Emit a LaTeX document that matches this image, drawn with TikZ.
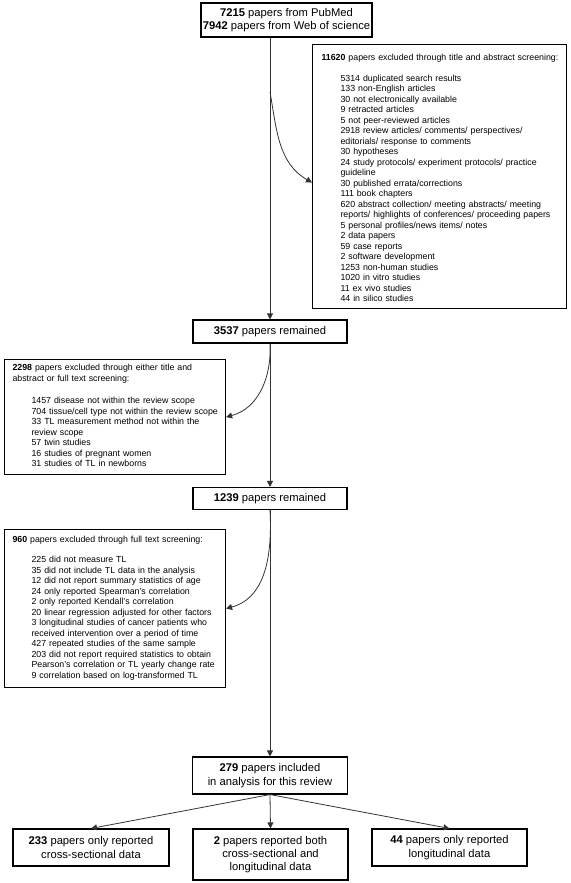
\documentclass[tikz,border=0pt]{standalone}
\usepackage{fontspec}
\setmainfont{Liberation Sans}
\usetikzlibrary{arrows.meta}
\def\ind{\hspace*{19pt}}
\tikzset{
	box/.style={draw=black, line width=1.1pt, fill=white, align=center, inner sep=0pt, font=\fontsize{11.2}{13.3}\selectfont},
	exbox/.style={draw=black, line width=1.1pt, fill=white, align=left, anchor=north west, inner ysep=0pt, font=\fontsize{8.8}{10.5}\selectfont},
	arr/.style={draw=black!80, line width=0.8pt, -{Triangle[length=6pt,width=6pt]}},
}

\begin{document}
\begin{tikzpicture}[x=1pt, y=1pt]
			%%%%% START %%%%%
			\useasboundingbox (0,0) rectangle (570,-883);
			
			\node[box, minimum width=171pt, minimum height=34pt] (search) at (286.5,-20) {\textbf{7215} papers from PubMed\\ \textbf{7942} papers from Web of science};
			
			\node[exbox, inner xsep=9pt, text width=236pt, minimum height=264pt] (titleex) at (312,-44) {\rule{0pt}{13pt}\mbox{\textbf{11620} papers excluded through title and abstract screening:}\\[10pt]
				\ind\begin{tabular}[t]{@{}l@{}}
				5314 duplicated search results\\
				133 non-English articles\\
				30 not electronically available\\
				9 retracted articles\\
				5 not peer-reviewed articles\\
				2918 review articles/ comments/ perspectives/\\
				editorials/ response to comments\\
				30 hypotheses\\
				24 study protocols/ experiment protocols/ practice\\
				guideline\\
				30 published errata/corrections\\
				111 book chapters\\
				620 abstract collection/ meeting abstracts/ meeting\\
				reports/ highlights of conferences/ proceeding papers\\
				5 personal profiles/news items/ notes\\
				2 data papers\\
				59 case reports\\
				2 software development\\
				1253 non-human studies\\
				1020 in vitro studies\\
				11 ex vivo studies\\
				44 in silico studies
				\end{tabular}};
			
			\node[box, minimum width=154pt, minimum height=23pt] (remain1) at (270,-331.5) {\textbf{3537} papers remained};
			
			\node[exbox, inner xsep=8pt, text width=205pt, minimum height=115pt] (eitherex) at (4,-359) {\textbf{2298} papers excluded through either title and\\ abstract or full text screening:\\[12pt]
				\ind\begin{tabular}[t]{@{}l@{}}
				1457 disease not within the review scope\\
				704 tissue/cell type not within the review scope\\
				33 TL measurement method not within the\\
				review scope\\
				57 twin studies\\
				16 studies of pregnant women\\
				31 studies of TL in newborns
				\end{tabular}};
			
			\node[box, minimum width=154pt, minimum height=22pt] (remain2) at (270,-498.5) {\textbf{1239} papers remained};
			
			\node[exbox, inner xsep=8pt, text width=205pt, minimum height=158pt] (fullex) at (4,-529) {\textbf{960} papers excluded through full text screening:\\[10pt]
				\ind\begin{tabular}[t]{@{}l@{}}
				225 did not measure TL\\
				35 did not include TL data in the analysis\\
				12 did not report summary statistics of age\\
				24 only reported Spearman's correlation\\
				2 only reported Kendall's correlation\\
				20 linear regression adjusted for other factors\\
				3 longitudinal studies of cancer patients who\\
				received intervention over a period of time\\
				427 repeated studies of the same sample\\
				203 did not report required statistics to obtain\\
				Pearson's correlation or TL yearly change rate\\
				9 correlation based on log-transformed TL
				\end{tabular}};
			
			\node[box, minimum width=155pt, minimum height=37pt] (included) at (270,-775.5) {\textbf{279} papers included\\ in analysis for this review};
			
			\node[box, minimum width=156pt, minimum height=37pt] (cross) at (91,-847.5) {\textbf{233} papers only reported\\ cross-sectional data};
			\node[box, minimum width=155pt, minimum height=51pt] (both) at (270.5,-854.5) {\textbf{2} papers reported both\\ cross-sectional and\\ longitudinal data};
			\node[box, minimum width=155pt, minimum height=37pt] (longi) at (449.5,-847.5) {\textbf{44} papers only reported\\ longitudinal data};
			
			% main flow
			\draw[arr] (search.south -| remain1.north) -- (remain1.north);
			\draw[arr] (remain1.south) -- (remain2.north);
			\draw[arr] (remain2.south) -- (included.north);
			\draw[arr] (included.south) -- (cross.north);
			\draw[arr] (included.south) -- (both.north);
			\draw[arr] (included.south) -- (longi.north);
			
			% exclusions
			\coordinate (split1) at (270,-92);
			\draw[arr] (split1) to[out=-80, in=150] ([yshift=-6pt]titleex.west);
			\draw[arr] (remain1.south) to[out=-87, in=15] (eitherex.east);
			\draw[arr] (remain2.south) to[out=-87, in=15] (fullex.east);
			%%%%% END %%%%%
		\end{tikzpicture}
\end{document}
